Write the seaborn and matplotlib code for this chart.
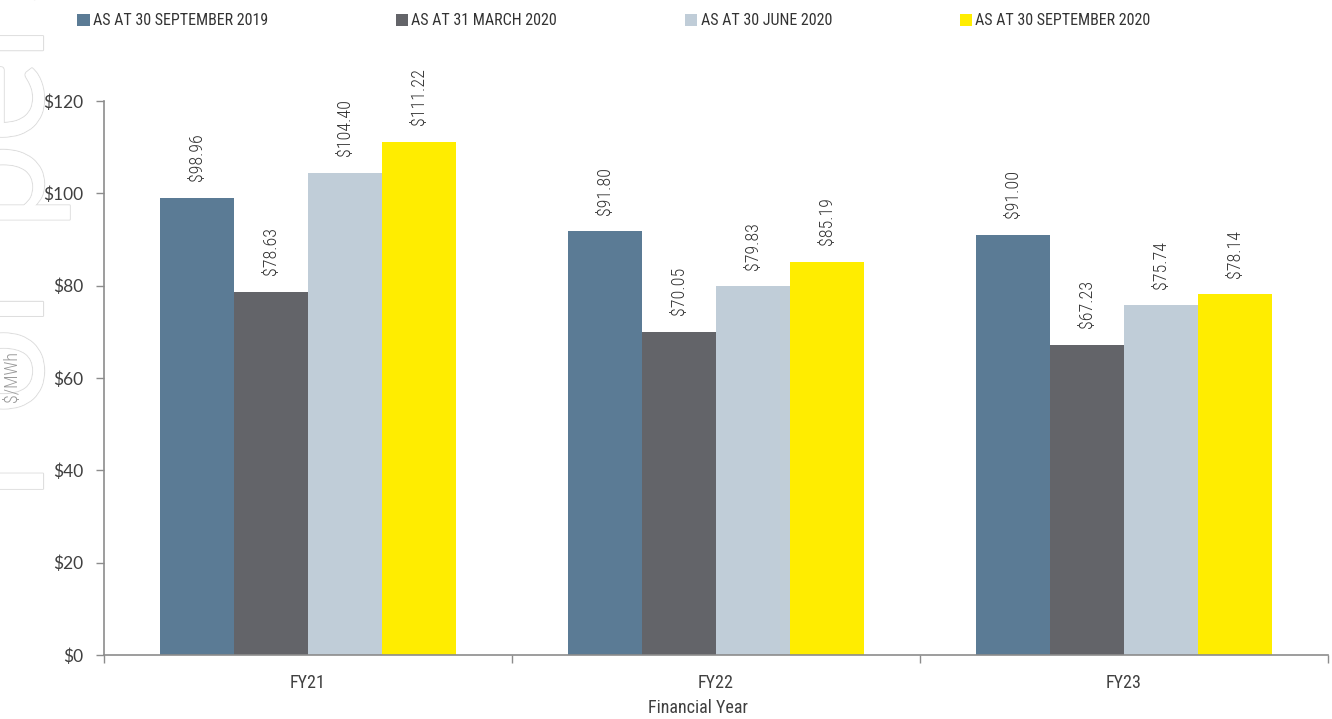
import pandas as pd
import numpy as np
import matplotlib.pyplot as plt
import matplotlib.patheffects as pe
import matplotlib.font_manager as fm
from matplotlib.patches import Patch
import seaborn as sns

# --- data ---
years = ['FY21', 'FY22', 'FY23']
series = ['AS AT 30 SEPTEMBER 2019', 'AS AT 31 MARCH 2020',
          'AS AT 30 JUNE 2020', 'AS AT 30 SEPTEMBER 2020']
sep_2019 = [98.96, 91.80, 91.00]
mar_2020 = [78.63, 70.05, 67.23]
jun_2020 = [104.40, 79.83, 75.74]
sep_2020 = [111.22, 85.19, 78.14]
colors = ['#5B7B95', '#636469', '#C0CDD8', '#FFED00']

df = pd.DataFrame({
    'year': years * 4,
    'series': np.repeat(series, 3),
    'price': sep_2019 + mar_2020 + jun_2020 + sep_2020,
})

# pick a narrow font if one is installed
installed = {f.name for f in fm.fontManager.ttflist}
narrow = next((n for n in ['Roboto Condensed', 'Liberation Sans Narrow',
                           'Archivo Narrow', 'PT Sans Narrow',
                           'Fira Sans Condensed', 'Open Sans Condensed']
               if n in installed), 'Roboto')
round_font = 'Lato' if 'Lato' in installed else 'DejaVu Sans'

# --- plot ---
sns.set_style('white')
plt.rcParams['font.family'] = [narrow, 'DejaVu Sans']

fig = plt.figure(figsize=(13.32, 7.19), dpi=100)

# faint watermark on the left edge, mostly off the page
wm = fig.text(43 / 1332, 1 - 503 / 719, 'For personal use only', rotation=90,
              rotation_mode='anchor', ha='left', va='baseline',
              fontsize=112, color='white', family=round_font, zorder=-5)
wm.set_path_effects([pe.withStroke(linewidth=1.6, foreground='#dedede'),
                     pe.Normal()])

ax = fig.add_axes([104 / 1332, 1 - 655 / 719, 1224 / 1332, 554 / 719])
ax.patch.set_alpha(0)

sns.barplot(data=df, x='year', y='price', hue='series', order=years,
            hue_order=series, palette=colors, width=0.725, gap=0,
            saturation=1, errorbar=None, linewidth=0, ax=ax, legend=False)

for cont in ax.containers:
    ax.bar_label(cont, labels=[f'${v:.2f}' for v in cont.datavalues],
                 rotation=90, padding=12, fontsize=13, color='#333333',
                 fontweight='light')

ax.set_xlim(-0.5, 2.5)
ax.set_ylim(0, 120)
ax.set_yticks(range(0, 121, 20))
ax.set_yticklabels([f'${v}' for v in range(0, 121, 20)], family=round_font)
ax.set_xticks([-0.5, 0.5, 1.5, 2.5], minor=True)

sns.despine(ax=ax)
for s in ['left', 'bottom']:
    ax.spines[s].set_color('#8c8c8c')
    ax.spines[s].set_linewidth(1.2)

ax.tick_params(axis='y', which='major', length=6, width=1, color='#8c8c8c',
               pad=9, labelsize=12.5, labelcolor='#404040', left=True)
ax.tick_params(axis='x', which='major', length=0, pad=14, labelsize=13,
               labelcolor='#404040')
ax.tick_params(axis='x', which='minor', length=6, width=1, color='#8c8c8c',
               bottom=True, direction='out')

ax.set_xlabel('Financial Year', fontsize=13, color='#404040')
ax.xaxis.set_label_coords(0.485, -0.079)
ax.set_ylabel('$/MWh', fontsize=13, color='#999999', fontweight='light')
ax.yaxis.set_label_coords(-0.068, 0.502)

handles = [Patch(facecolor=c, edgecolor='none') for c in colors]
fig.legend(handles, series, loc='center left', bbox_to_anchor=(0.058, 0.971),
           ncol=4, frameon=False, fontsize=11.5, handlelength=0.78,
           handleheight=0.78, handletextpad=0.2, columnspacing=8.0,
           labelcolor='#333333', borderaxespad=0, borderpad=0)

fig.savefig('out.png', dpi=100)
